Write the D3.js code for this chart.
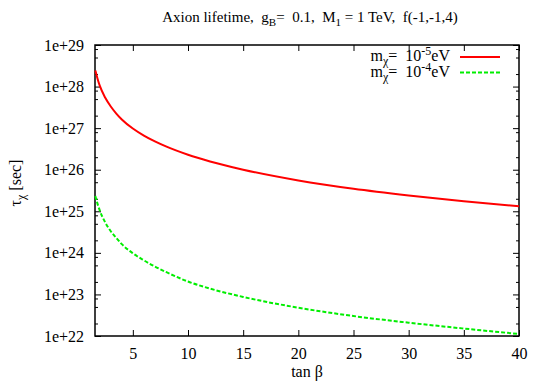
<!DOCTYPE html>
<html>
<head>
<meta charset="utf-8">
<script src="https://cdn.jsdelivr.net/npm/d3@7"></script>
<style>
  html, body { margin: 0; padding: 0; background: #fff; }
  svg { display: block; font-family: "Liberation Serif", "DejaVu Serif", serif; }
  svg text { white-space: pre; }
</style>
</head>
<body>
<svg id="chart" width="545" height="382"></svg>
<script>
// ---- data ----
const tanBeta = [1.6, 1.8, 2, 2.5, 3, 3.5, 4, 5, 6, 7, 8, 10, 12, 15, 20, 25, 30, 35, 40];
const tauM5 = [2.45e28, 1.55e28, 1.05e28, 5.37e27, 3.31e27, 2.24e27, 1.62e27, 9.77e26, 6.61e26,
               4.79e26, 3.63e26, 2.29e26, 1.58e26, 1.00e26, 5.50e25, 3.47e25, 2.40e25, 1.74e25, 1.32e25];
const tauM4 = [2.34e25, 1.51e25, 1.05e25, 5.37e24, 3.31e24, 2.29e24, 1.62e24, 9.77e23, 6.61e23,
               4.68e23, 3.47e23, 2.04e23, 1.38e23, 8.71e22, 4.79e22, 3.02e22, 2.09e22, 1.51e22, 1.12e22];
const xTicks = [5, 10, 15, 20, 25, 30, 35, 40];
const yTicks = [1e22, 1e23, 1e24, 1e25, 1e26, 1e27, 1e28, 1e29];
const yMinorMantissas = [2, 5, 8];
const xDomain = [1.57, 40];
const yDomain = [1e22, 1e29];

const svg = d3.select("#chart");
const m = { left: 95, right: 519, top: 45, bottom: 336 };
const x = d3.scaleLinear().domain(xDomain).range([m.left, m.right]);
const y = d3.scaleLog().domain(yDomain).range([m.bottom, m.top]);

const yMinor = [];
for (let e = 22; e < 29; e++) yMinorMantissas.forEach(k => yMinor.push(k * Math.pow(10, e)));

const fs = 16;
const gB = svg.append("g").attr("transform", `translate(0,${m.bottom})`)
  .call(d3.axisBottom(x).tickValues(xTicks).tickSizeInner(-6).tickSizeOuter(0).tickPadding(12));
const gT = svg.append("g").attr("transform", `translate(0,${m.top})`)
  .call(d3.axisTop(x).tickValues(xTicks).tickSizeInner(-6).tickSizeOuter(0).tickFormat(""));
const gL = svg.append("g").attr("transform", `translate(${m.left},0)`)
  .call(d3.axisLeft(y).tickValues(yTicks).tickSizeInner(-6).tickSizeOuter(0).tickPadding(11)
    .tickFormat(d => "1e+" + Math.round(Math.log10(d))));
const gLm = svg.append("g").attr("transform", `translate(${m.left},0)`)
  .call(d3.axisLeft(y).tickValues(yMinor).tickSizeInner(-3).tickSizeOuter(0).tickFormat(""));
const gR = svg.append("g").attr("transform", `translate(${m.right},0)`)
  .call(d3.axisRight(y).tickValues(yTicks).tickSizeInner(-6).tickSizeOuter(0).tickFormat(""));
const gRm = svg.append("g").attr("transform", `translate(${m.right},0)`)
  .call(d3.axisRight(y).tickValues(yMinor).tickSizeInner(-3).tickSizeOuter(0).tickFormat(""));

[gB, gT, gL, gLm, gR, gRm].forEach(g => {
  g.select(".domain").remove();
  g.selectAll("line").attr("stroke", "#000").attr("stroke-width", 1);
  g.selectAll("text").attr("font-size", fs).attr("fill", "#000")
    .attr("font-family", "Liberation Serif, serif");
});

svg.append("rect").attr("x", m.left).attr("y", m.top)
  .attr("width", m.right - m.left).attr("height", m.bottom - m.top)
  .attr("fill", "none").attr("stroke", "#000").attr("stroke-width", 1.5);

const line = d3.line().x((d, i) => x(tanBeta[i])).y(d => y(d)).curve(d3.curveMonotoneX);
svg.append("path").datum(tauM5).attr("d", line)
  .attr("fill", "none").attr("stroke", "#ff0000").attr("stroke-width", 2);
svg.append("path").datum(tauM4).attr("d", line)
  .attr("fill", "none").attr("stroke", "#00ee00").attr("stroke-width", 2)
  .attr("stroke-dasharray", "4,2");

// title
const title = svg.append("text").attr("x", 310).attr("y", 22).attr("text-anchor", "middle")
  .attr("font-size", 15).attr("fill", "#000");
title.append("tspan").text("Axion lifetime,  g");
title.append("tspan").attr("font-size", 11).attr("dy", 4).text("B");
title.append("tspan").attr("dy", -4).text("=  0.1,  M");
title.append("tspan").attr("font-size", 11).attr("dy", 4).text("1");
title.append("tspan").attr("dy", -4).text(" = 1 TeV,  f(-1,-1,4)");

svg.append("text").attr("x", 307).attr("y", 377).attr("text-anchor", "middle")
  .attr("font-size", fs).attr("fill", "#000").text("tan β");

const yl = svg.append("text").attr("transform", "translate(21,183) rotate(-90)")
  .attr("text-anchor", "middle").attr("font-size", fs).attr("fill", "#000");
yl.append("tspan").text("τ");
yl.append("tspan").attr("font-size", 12).attr("dy", 4).text("χ");
yl.append("tspan").attr("dy", -4).text(" [sec]");

const legend = [
  { exp: "-5", color: "#ff0000", dash: null },
  { exp: "-4", color: "#00ee00", dash: "4,2" }
];
legend.forEach((d, i) => {
  const yy = 57 + i * 15.5;
  const t = svg.append("text").attr("x", 450).attr("y", yy + 4).attr("text-anchor", "end")
    .attr("font-size", fs).attr("fill", "#000");
  t.append("tspan").text("m");
  t.append("tspan").attr("font-size", 12).attr("dy", 4).text("χ");
  t.append("tspan").attr("dy", -4).text("=  10");
  t.append("tspan").attr("font-size", 12).attr("dy", -6).text(d.exp);
  t.append("tspan").attr("dy", 6).text("eV");
  svg.append("line").attr("x1", 460).attr("x2", 500).attr("y1", yy).attr("y2", yy)
    .attr("stroke", d.color).attr("stroke-width", 2)
    .attr("stroke-dasharray", d.dash);
});
</script>
</body>
</html>
